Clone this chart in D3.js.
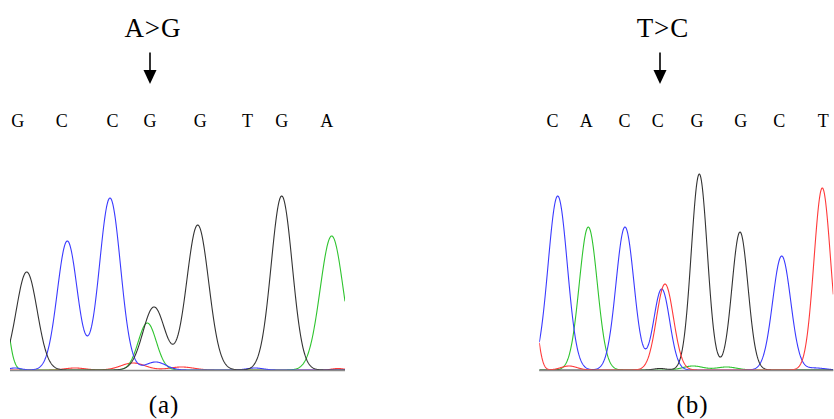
<!DOCTYPE html>
<html>
<head>
<meta charset="utf-8">
<script src="https://cdn.jsdelivr.net/npm/d3@7"></script>
<style>
  html, body { margin: 0; padding: 0; background: #fff; }
  svg { display: block; }
  text { font-family: "Liberation Serif", "Times New Roman", serif; fill: #000; }
</style>
</head>
<body>
<svg id="chart" width="834" height="419"></svg>
<script>
// ---- Panel (a): base calls and mutation ----
const callsA = ["G", "C", "C", "G", "G", "T", "G", "A"];
const callPosA = [7.8, 51.7, 102.5, 140, 190.3, 237.5, 271.7, 316.7];
const mutationA = "A>G";
const mutationPosA = 140;

// Peaks per dye channel: [scan position, signal height, peak width (sd)]
const blackPeaksA = [[16.7, 98, 10.5], [144, 63, 11], [187.7, 145, 11], [271.7, 174, 10.5]];
const bluePeaksA  = [[57.3, 129, 10], [100, 172, 10.5], [145.7, 8, 10], [245, 2, 8], [5, 2, 6]];
const greenPeaksA = [[-8, 75, 6], [137.3, 47, 9], [321.7, 134, 11.5]];
const redPeaksA   = [[65, 2, 10], [123, 7, 12], [171.7, 3, 12], [328, 1.5, 6]];

// ---- Panel (b): base calls and mutation ----
const callsB = ["C", "A", "C", "C", "G", "G", "C", "T"];
const callPosB = [13.2, 47, 85.2, 118.5, 157.7, 201.4, 239.9, 284];
const mutationB = "T>C";
const mutationPosB = 120.7;

const blackPeaksB = [[160, 196, 8], [200.7, 138, 8], [120.7, 1.5, 6]];
const bluePeaksB  = [[18.4, 174, 9.6], [85.7, 143, 9], [122.4, 81, 8], [242.4, 114, 9], [276, 2, 10]];
const greenPeaksB = [[49, 143, 9], [153.7, 4, 10], [187.4, 3, 10]];
const redPeaksB   = [[-6.3, 60, 5], [29.7, 4, 8], [125.7, 86, 8.5], [283, 182, 8.3]];

const panelLabels = ["(a)", "(b)"];

const dyeColors = { black: "#333333", blue: "#3a3aff", green: "#2fc42f", red: "#ff3a3a" };

const panels = [
  { label: panelLabels[0], calls: callsA, callPos: callPosA, mutation: mutationA, mutationPos: mutationPosA,
    scans: [0, 335], range: [10, 345], labelX: 164,
    channels: [["red", redPeaksA], ["green", greenPeaksA], ["blue", bluePeaksA], ["black", blackPeaksA]] },
  { label: panelLabels[1], calls: callsB, callPos: callPosB, mutation: mutationB, mutationPos: mutationPosB,
    scans: [0, 294], range: [539.3, 833.3], labelX: 692.5,
    channels: [["green", greenPeaksB], ["blue", bluePeaksB], ["black", blackPeaksB], ["red", redPeaksB]] }
];

const svg = d3.select("#chart");
const y = d3.scaleLinear().domain([0, 200]).range([370, 170]);

// Signal of one channel at a scan position: sum of its peak shapes
function signal(peaks, s) {
  let v = 0;
  for (const [c, h, w] of peaks) v += h * Math.exp(-((s - c) * (s - c)) / (2 * w * w));
  return v;
}

panels.forEach((p, i) => {
  const x = d3.scaleLinear().domain(p.scans).range(p.range);
  const g = svg.append("g");

  const clipId = "clip" + i;
  svg.append("clipPath").attr("id", clipId)
    .append("rect")
    .attr("x", p.range[0]).attr("y", 150)
    .attr("width", p.range[1] - p.range[0]).attr("height", 225);

  const scanPts = d3.range(p.scans[0], p.scans[1] + 0.25, 0.5);
  const line = d3.line().x(d => x(d[0])).y(d => y(d[1])).curve(d3.curveLinear);

  const traces = g.append("g").attr("clip-path", `url(#${clipId})`);
  p.channels.forEach(([dye, peaks]) => {
    traces.append("path")
      .datum(scanPts.map(s => [s, signal(peaks, s)]))
      .attr("d", line)
      .attr("fill", "none")
      .attr("stroke", dyeColors[dye])
      .attr("stroke-width", 1.1)
      .attr("stroke-linejoin", "round");
  });

  // Baseline
  g.append("line")
    .attr("x1", p.range[0]).attr("x2", p.range[1])
    .attr("y1", y(0) + 0.5).attr("y2", y(0) + 0.5)
    .attr("stroke", "#8a8a8a").attr("stroke-width", 1.6);

  // Base calls
  g.selectAll("text.call").data(p.calls).join("text")
    .attr("class", "call")
    .attr("x", (d, k) => x(p.callPos[k]))
    .attr("y", 127)
    .attr("text-anchor", "middle")
    .attr("font-size", 18)
    .text(d => d);

  // Mutation label and arrow
  const mx = x(p.mutationPos);
  g.append("text")
    .attr("x", mx + 3).attr("y", 37)
    .attr("text-anchor", "middle")
    .attr("font-size", 27)
    .attr("letter-spacing", 1)
    .text(p.mutation);
  g.append("line")
    .attr("x1", mx).attr("x2", mx)
    .attr("y1", 52.5).attr("y2", 71)
    .attr("stroke", "#000").attr("stroke-width", 1.6);
  g.append("path")
    .attr("d", `M${mx - 6.5},70 L${mx + 6.5},70 L${mx},84 Z`)
    .attr("fill", "#000");

  // Panel label
  g.append("text")
    .attr("x", p.labelX).attr("y", 413)
    .attr("text-anchor", "middle")
    .attr("font-size", 25)
    .attr("letter-spacing", 1)
    .text(p.label);
});
</script>
</body>
</html>
